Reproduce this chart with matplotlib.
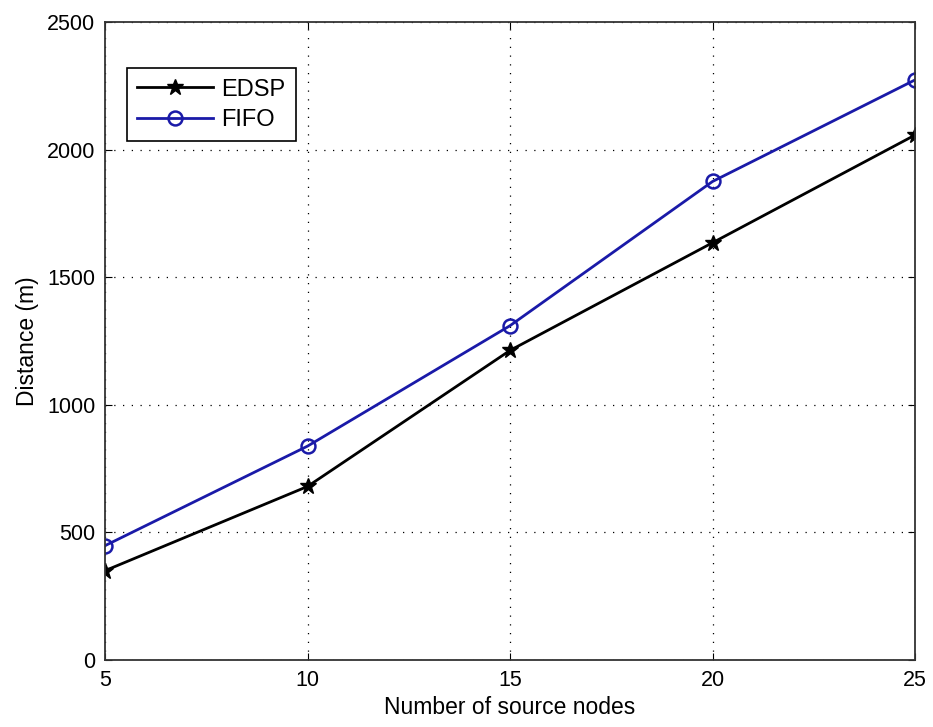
import matplotlib
matplotlib.use("Agg")
import matplotlib.pyplot as plt

# data
source_nodes = [5, 10, 15, 20, 25]
edsp = [350, 680, 1213, 1635, 2057]
fifo = [448, 838, 1310, 1875, 2273]

plt.rcParams["font.family"] = ["Liberation Sans", "DejaVu Sans"]

fig = plt.figure(figsize=(9.33, 7.27), dpi=100)
ax = fig.add_axes([105 / 933, 1 - 660 / 727, 810 / 933, 638 / 727])

ax.plot(source_nodes, edsp, color="black", linewidth=2, marker="*",
        markersize=12, label="EDSP")
ax.plot(source_nodes, fifo, color="#1a1aa8", linewidth=2, marker="o",
        markersize=10, markerfacecolor="none", markeredgewidth=1.8, label="FIFO")

ax.set_xlim(5, 25)
ax.set_ylim(0, 2500)
ax.set_xticks(source_nodes)
ax.set_yticks([0, 500, 1000, 1500, 2000, 2500])
ax.grid(True, linestyle=(0, (1, 6)), color="black", linewidth=0.9)
ax.tick_params(direction="in", top=True, right=True, labelsize=15.5, length=5, pad=7)
for s in ax.spines.values():
    s.set_linewidth(1.3)
    s.set_color("#333333")

ax.set_xlabel("Number of source nodes", fontsize=16.5, labelpad=4)
ax.set_ylabel("Distance (m)", fontsize=16.5, labelpad=6)

leg = ax.legend(loc="upper left", bbox_to_anchor=(0.027, 0.928), borderaxespad=0,
                fontsize=17, fancybox=False, framealpha=1, edgecolor="black",
                handlelength=3.2, handletextpad=0.35, borderpad=0.45, labelspacing=0.35)
leg.get_frame().set_linewidth(1.2)

fig.savefig("out.png", dpi=100)
